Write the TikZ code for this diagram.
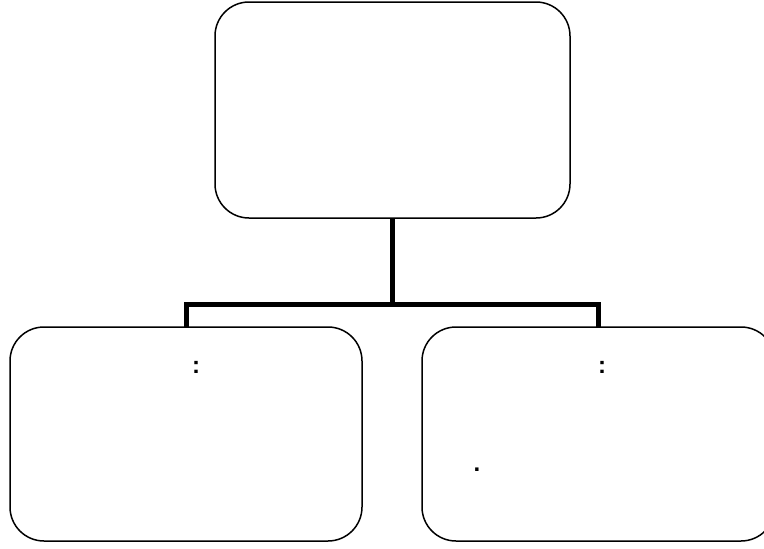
\documentclass[tikz,border=0pt]{standalone}
\usepackage{fontspec}
\setmainfont{Liberation Sans}
\begin{document}
\begin{tikzpicture}[x=1pt,y=-1pt,
  box/.style={draw=black,line width=1.5pt,rounded corners=34pt,rectangle,inner sep=0pt,outer sep=0pt},
  conn/.style={draw=black,line width=5pt,line join=miter},
  lbl/.style={inner sep=0pt,font=\fontsize{24}{28}\selectfont\bfseries}]
\useasboundingbox (0,0) rectangle (764,549);
\clip (0,0) rectangle (764,549);
\node[box,minimum width=355pt,minimum height=216pt] (top) at (392.5,110) {};
\node[box,minimum width=352pt,minimum height=214pt] (l) at (186,434) {};
\node[box,minimum width=353pt,minimum height=214pt] (r) at (598.5,434) {};
\coordinate (j) at (392.5,304);
\draw[conn] (l.north) |- (j) -| (r.north);
\draw[conn] (top.south) -- (j);
\node[lbl] (c1) at (196,367) {:};
\node[lbl] (c2) at (602,367) {:};
\node[lbl] (d1) at (477,470) {.};
\end{tikzpicture}
\end{document}
